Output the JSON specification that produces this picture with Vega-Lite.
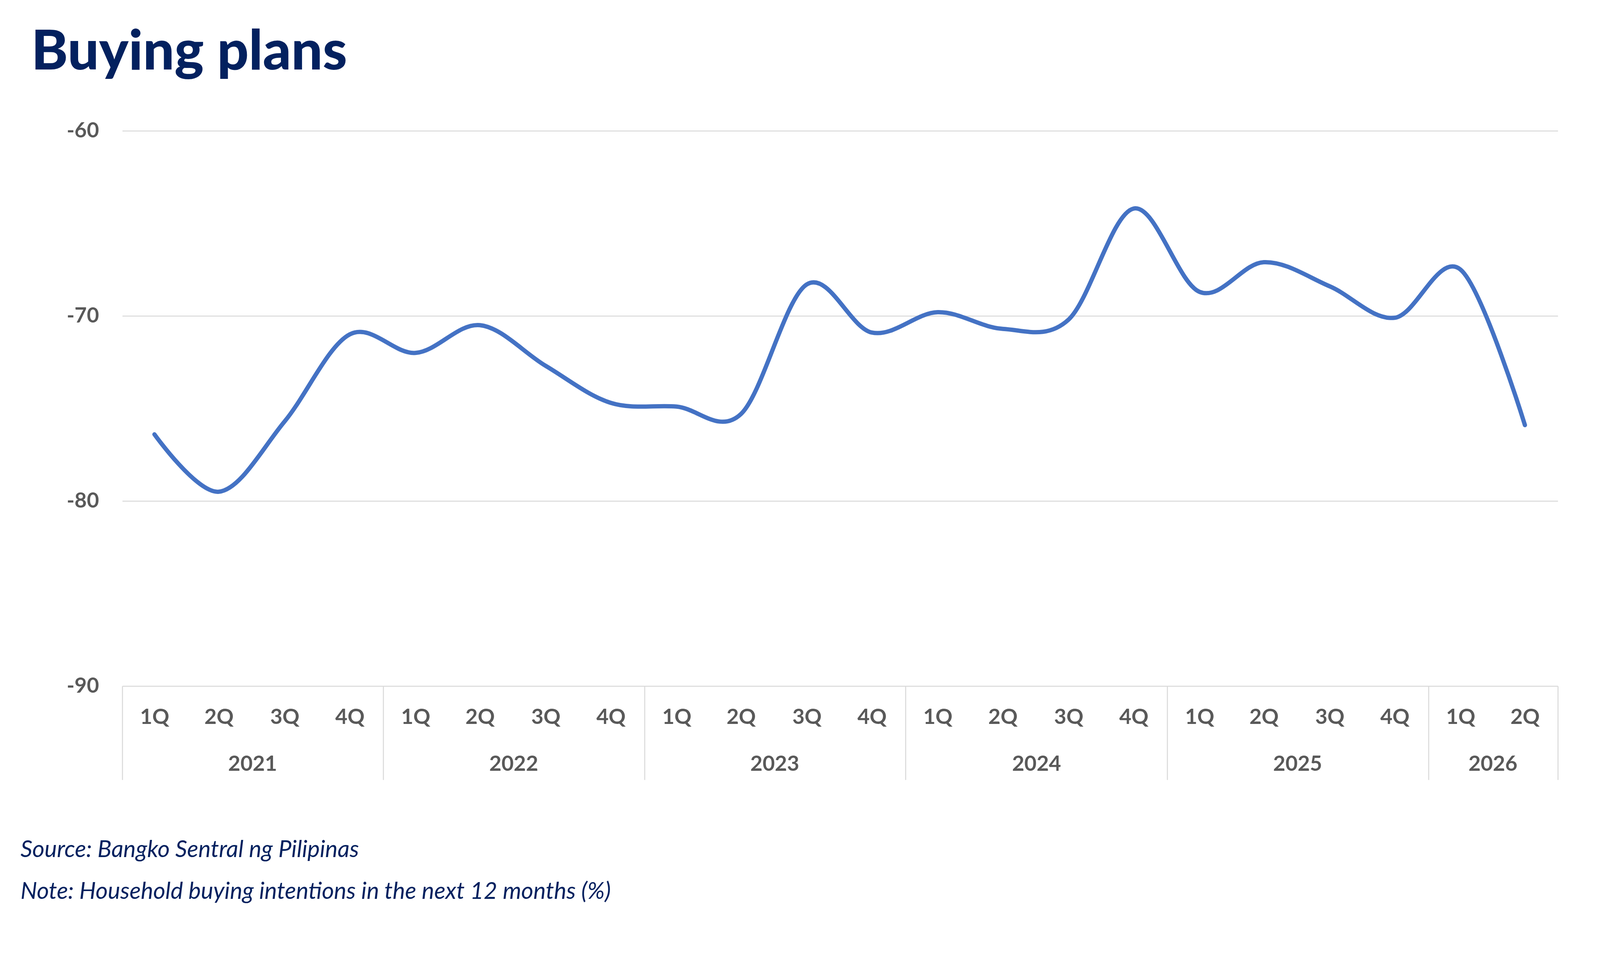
{
  "$schema": "https://vega.github.io/schema/vega-lite/v6.json",
  "width": 4092,
  "height": 2358,
  "autosize": {"type": "fit", "contains": "padding"},
  "padding": {"left": 52, "top": 64, "right": 102, "bottom": 45},
  "background": "#ffffff",
  "config": {"view": {"stroke": null}, "font": "Lato"},
  "title": {
    "text": "Buying plans",
    "anchor": "start",
    "frame": "group",
    "font": "Lato",
    "fontSize": 142,
    "fontWeight": 900,
    "color": "#03215f",
    "baseline": "alphabetic",
    "offset": 0,
    "dx": -233,
    "dy": 12
  },
  "data": {
    "values": [
      {"date": "2021-02-15", "value": -76.4},
      {"date": "2021-05-16", "value": -79.5},
      {"date": "2021-08-16", "value": -75.7},
      {"date": "2021-11-15", "value": -71.0},
      {"date": "2022-02-15", "value": -72.0},
      {"date": "2022-05-16", "value": -70.5},
      {"date": "2022-08-16", "value": -72.7},
      {"date": "2022-11-15", "value": -74.7},
      {"date": "2023-02-15", "value": -74.9},
      {"date": "2023-05-16", "value": -75.3},
      {"date": "2023-08-16", "value": -68.3},
      {"date": "2023-11-15", "value": -70.9},
      {"date": "2024-02-15", "value": -69.8},
      {"date": "2024-05-16", "value": -70.7},
      {"date": "2024-08-16", "value": -70.2},
      {"date": "2024-11-15", "value": -64.2},
      {"date": "2025-02-15", "value": -68.7},
      {"date": "2025-05-16", "value": -67.1},
      {"date": "2025-08-16", "value": -68.4},
      {"date": "2025-11-15", "value": -70.1},
      {"date": "2026-02-15", "value": -67.5},
      {"date": "2026-05-16", "value": -75.9}
    ]
  },
  "resolve": {"axis": {"x": "independent"}},
  "layer": [
    {
      "mark": {"type": "line", "interpolate": "cardinal", "color": "#4472c4", "strokeWidth": 11, "strokeCap": "round"},
      "encoding": {
        "x": {
          "field": "date",
          "type": "temporal",
          "scale": {
            "domain": [{"year": 2021, "month": 1, "date": 1}, {"year": 2026, "month": 7, "date": 1}],
            "nice": false
          },
          "axis": {
            "orient": "bottom",
            "values": [
              {"year": 2021, "month": 2, "date": 15}, {"year": 2021, "month": 5, "date": 16},
              {"year": 2021, "month": 8, "date": 16}, {"year": 2021, "month": 11, "date": 15},
              {"year": 2022, "month": 2, "date": 15}, {"year": 2022, "month": 5, "date": 16},
              {"year": 2022, "month": 8, "date": 16}, {"year": 2022, "month": 11, "date": 15},
              {"year": 2023, "month": 2, "date": 15}, {"year": 2023, "month": 5, "date": 16},
              {"year": 2023, "month": 8, "date": 16}, {"year": 2023, "month": 11, "date": 15},
              {"year": 2024, "month": 2, "date": 15}, {"year": 2024, "month": 5, "date": 16},
              {"year": 2024, "month": 8, "date": 16}, {"year": 2024, "month": 11, "date": 15},
              {"year": 2025, "month": 2, "date": 15}, {"year": 2025, "month": 5, "date": 16},
              {"year": 2025, "month": 8, "date": 16}, {"year": 2025, "month": 11, "date": 15},
              {"year": 2026, "month": 2, "date": 15}, {"year": 2026, "month": 5, "date": 16}
            ],
            "format": "%qQ",
            "title": null,
            "domain": false,
            "ticks": false,
            "grid": false,
            "labelPadding": 53,
            "labelFont": "Lato",
            "labelFontSize": 54,
            "labelFontWeight": "bold",
            "labelColor": "#595959",
            "labelFlush": false,
            "labelOverlap": false
          }
        },
        "y": {
          "field": "value",
          "type": "quantitative",
          "scale": {"domain": [-90, -60], "nice": false, "zero": false},
          "axis": {
            "values": [-90, -80, -70, -60],
            "title": null,
            "domain": false,
            "ticks": false,
            "grid": true,
            "gridColor": "#d9d9d9",
            "gridWidth": 2.5,
            "labelPadding": 60,
            "labelFont": "Lato",
            "labelFontSize": 54,
            "labelFontWeight": "bold",
            "labelColor": "#595959",
            "labelExpr": "'-' + abs(datum.value)"
          }
        }
      }
    },
    {
      "mark": {"type": "rule", "opacity": 0},
      "encoding": {
        "x": {
          "field": "date",
          "type": "temporal",
          "axis": {
            "orient": "bottom",
            "values": [
              {"year": 2021, "month": 7, "date": 2}, {"year": 2022, "month": 7, "date": 2},
              {"year": 2023, "month": 7, "date": 2}, {"year": 2024, "month": 7, "date": 2},
              {"year": 2025, "month": 7, "date": 2}, {"year": 2026, "month": 4, "date": 1}
            ],
            "format": "%Y",
            "domain": false,
            "ticks": false,
            "grid": false,
            "labelPadding": 173,
            "labelFont": "Lato",
            "labelFontSize": 54,
            "labelFontWeight": "bold",
            "labelColor": "#595959",
            "labelFlush": false,
            "labelOverlap": false,
            "title": ["Source: Bangko Sentral ng Pilipinas", "Note: Household buying intentions in the next 12 months (%)"],
            "titleX": -261,
            "titleY": 437,
            "titleAlign": "left",
            "titleAnchor": "start",
            "titleBaseline": "alphabetic",
            "titleAngle": 0,
            "titleFont": "Lato",
            "titleFontSize": 60,
            "titleFontStyle": "italic",
            "titleFontWeight": "normal",
            "titleColor": "#03215f",
            "titleLineHeight": 107
          }
        }
      }
    },
    {
      "mark": {"type": "rule", "opacity": 0},
      "encoding": {
        "x": {
          "field": "date",
          "type": "temporal",
          "axis": {
            "orient": "bottom",
            "values": [
              {"year": 2021, "month": 1, "date": 1}, {"year": 2022, "month": 1, "date": 1},
              {"year": 2023, "month": 1, "date": 1}, {"year": 2024, "month": 1, "date": 1},
              {"year": 2025, "month": 1, "date": 1}, {"year": 2026, "month": 1, "date": 1},
              {"year": 2026, "month": 7, "date": 1}
            ],
            "labels": false,
            "domain": false,
            "ticks": true,
            "tickSize": 240,
            "tickColor": "#d9d9d9",
            "tickWidth": 2.5,
            "grid": false,
            "title": null
          }
        }
      }
    }
  ]
}
